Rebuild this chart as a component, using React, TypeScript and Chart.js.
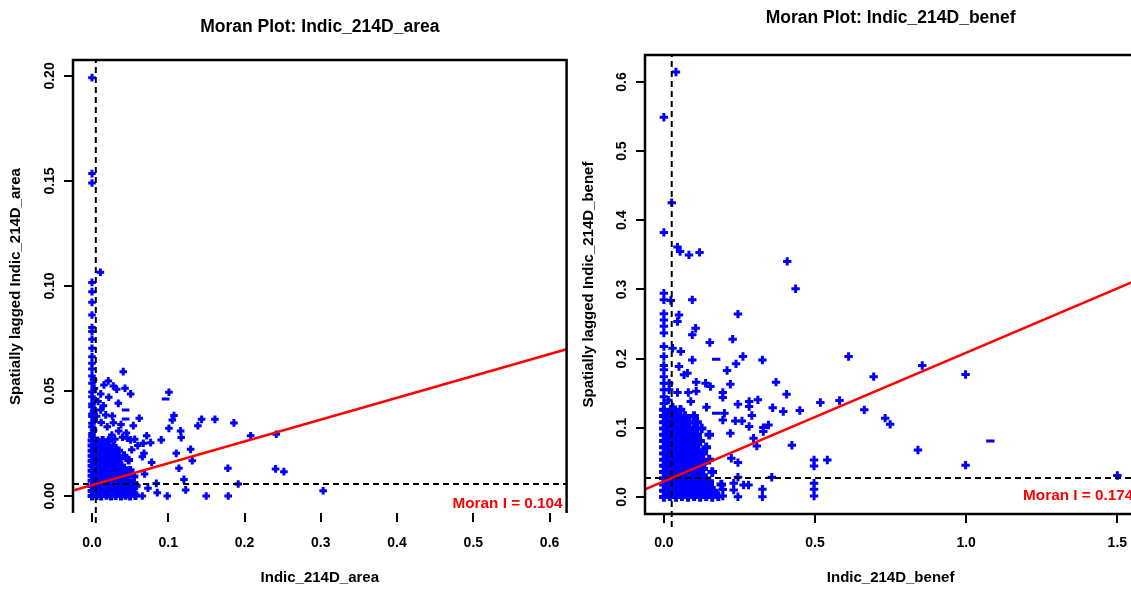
import { useEffect, useRef } from "react";
import { Chart, registerables } from "chart.js";

Chart.register(...registerables);

const FONT = "'Liberation Sans', Arial, Helvetica, sans-serif";

// ---------- Left panel: Indic_214D_area ----------
const areaTitle = "Moran Plot: Indic_214D_area";
const areaXLabel = "Indic_214D_area";
const areaYLabel = "Spatially lagged Indic_214D_area";
const areaMoran = "Moran I = 0.104";
const areaXTicks = [0, 0.1, 0.2, 0.3, 0.4, 0.5, 0.6];
const areaXTickLabels = ["0.0", "0.1", "0.2", "0.3", "0.4", "0.5", "0.6"];
const areaYTicks = [0, 0.05, 0.1, 0.15, 0.2];
const areaYTickLabels = ["0.00", "0.05", "0.10", "0.15", "0.20"];
const areaMeanX = 0.005;
const areaMeanY = 0.0057;
const areaSlope = 0.104;

const areaPoints: [number, number][] = [
  // column near x = 0
  [0, 0.1992], [0, 0.1535], [0, 0.149], [0.011, 0.1065], [0, 0.1017], [0, 0.0973], [0, 0.0922],
  [0, 0.0862], [0, 0.0802], [0, 0.0783], [0, 0.0746], [0, 0.0703], [0, 0.0663], [0, 0.0632],
  [0, 0.0605], [0, 0.0571], [0.002, 0.0555], [0, 0.0537], [0.003, 0.0512], [0, 0.0495], [0, 0.0473],
  [0.003, 0.0455], [0, 0.0438], [0, 0.0425], [0.002, 0.0405], [0, 0.039], [0, 0.0378], [0.003, 0.036],
  [0, 0.0346], [0, 0.033], [0.002, 0.0314], [0, 0.0298], [0, 0.0283],
  // scattered
  [0.041, 0.0592], [0.0214, 0.0548], [0.028, 0.0524], [0.0324, 0.0508], [0.0157, 0.0529], [0.0433, 0.0513],
  [0.0507, 0.0486], [0.0114, 0.0486], [0.1009, 0.0494], [0.0345, 0.0441], [0.0114, 0.041], [0.018, 0.0386],
  [0.0267, 0.0381], [0.028, 0.0349], [0.062, 0.037], [0.0542, 0.0335], [0.1075, 0.0383], [0.1053, 0.0362],
  [0.1009, 0.0322], [0.1437, 0.0365], [0.1389, 0.0335], [0.1612, 0.0365], [0.1861, 0.0348], [0.1162, 0.031],
  [0.117, 0.0278], [0.0717, 0.0287], [0.0673, 0.0251], [0.0769, 0.0254], [0.0908, 0.0267], [0.0463, 0.0275],
  [0.0507, 0.0267], [0.1293, 0.0222], [0.1105, 0.0203], [0.1315, 0.0168], [0.208, 0.0287], [0.2416, 0.0294],
  [0.0782, 0.016], [0.066, 0.0187], [0.0682, 0.0203], [0.114, 0.0132], [0.1782, 0.0132], [0.2407, 0.0129],
  [0.2516, 0.0116], [0.069, 0.0105], [0.1206, 0.0079], [0.1228, 0.0029], [0.0843, 0.006], [0.0856, 0.0016],
  [0.0734, 0.0037], [0.066, 0], [0.0987, 0], [0.1498, 0], [0.1786, 0], [0.1917, 0.0057], [0.3031, 0.0025],
  [0.008, 0.045], [0.015, 0.043], [0.022, 0.047], [0.006, 0.038], [0.012, 0.035], [0.02, 0.033],
  [0.035, 0.031], [0.04, 0.028], [0.026, 0.029], [0.03, 0.027], [0.038, 0.034], [0.045, 0.03],
  [0.056, 0.027], [0.06, 0.024], [0.052, 0.022],
];
// dense cluster near the origin
const areaCluster: [number, number][] = [
  [0, 0], [0.006, 0.0002], [0.012, 0], [0.019, 0.0003], [0.025, 0], [0.031, 0.0002], [0.038, 0], [0.044, 0.0003], [0.05, 0], [0.057, 0.0002],
  [0.003, 0.0012], [0.0095, 0.0013], [0.016, 0.0011], [0.0225, 0.0012], [0.029, 0.0013], [0.0355, 0.0011], [0.042, 0.0012], [0.0485, 0.0013], [0.055, 0.0012],
  [0, 0.0024], [0.007, 0.0026], [0.013, 0.0023], [0.02, 0.0025], [0.026, 0.0022], [0.033, 0.0026], [0.039, 0.0024], [0.046, 0.0023], [0.053, 0.0025],
  [0.003, 0.0036], [0.0095, 0.0037], [0.016, 0.0035], [0.0225, 0.0036], [0.029, 0.0037], [0.0355, 0.0035], [0.042, 0.0036], [0.0485, 0.0037],
  [0, 0.0048], [0.006, 0.0047], [0.012, 0.005], [0.019, 0.0046], [0.025, 0.0049], [0.032, 0.0047], [0.038, 0.005], [0.045, 0.0046], [0.051, 0.0048], [0.058, 0.0049],
  [0.003, 0.006], [0.0095, 0.0061], [0.016, 0.0059], [0.0225, 0.006], [0.029, 0.0061], [0.0355, 0.0059], [0.042, 0.006], [0.0485, 0.0061], [0.055, 0.006],
  [0, 0.0072], [0.007, 0.0073], [0.013, 0.007], [0.02, 0.0074], [0.027, 0.0071], [0.033, 0.0073], [0.04, 0.007], [0.047, 0.0072],
  [0.003, 0.0084], [0.0095, 0.0085], [0.016, 0.0083], [0.0225, 0.0084], [0.029, 0.0085], [0.0355, 0.0083], [0.042, 0.0084],
  [0, 0.0096], [0.006, 0.0095], [0.012, 0.0098], [0.019, 0.0094], [0.026, 0.0097], [0.032, 0.0095], [0.039, 0.0098], [0.045, 0.0096], [0.055, 0.0093],
  [0.003, 0.0108], [0.0095, 0.0109], [0.016, 0.0107], [0.0225, 0.0108], [0.029, 0.0109], [0.0355, 0.0107], [0.042, 0.0108], [0.0485, 0.0109],
  [0, 0.012], [0.007, 0.0121], [0.013, 0.0118], [0.02, 0.0122], [0.026, 0.0119], [0.033, 0.0121], [0.04, 0.0118], [0.05, 0.0122],
  [0.003, 0.0132], [0.0095, 0.0133], [0.016, 0.0131], [0.0225, 0.0132], [0.029, 0.0133], [0.0355, 0.0131], [0.042, 0.0132],
  [0, 0.0144], [0.006, 0.0146], [0.012, 0.0143], [0.019, 0.0145], [0.025, 0.0142], [0.032, 0.0146], [0.038, 0.0144],
  [0.003, 0.0156], [0.0095, 0.0157], [0.016, 0.0155], [0.0225, 0.0156], [0.029, 0.0157], [0.0355, 0.0155],
  [0, 0.0168], [0.007, 0.0167], [0.013, 0.017], [0.02, 0.0166], [0.027, 0.0169], [0.034, 0.0167], [0.048, 0.0171],
  [0.003, 0.018], [0.0095, 0.0181], [0.016, 0.0179], [0.0225, 0.018], [0.029, 0.0181], [0.0355, 0.0179],
  [0, 0.0192], [0.006, 0.0194], [0.012, 0.0191], [0.019, 0.0193], [0.025, 0.019], [0.032, 0.0194], [0.042, 0.0192],
  [0.003, 0.0204], [0.0095, 0.0205], [0.016, 0.0203], [0.0225, 0.0204], [0.029, 0.0205],
  [0, 0.0216], [0.007, 0.0215], [0.013, 0.0218], [0.02, 0.0214], [0.026, 0.0217], [0.035, 0.0215],
  [0.003, 0.0228], [0.0095, 0.0229], [0.016, 0.0227], [0.0225, 0.0228], [0.029, 0.0229],
  [0, 0.024], [0.006, 0.0242], [0.012, 0.0239], [0.019, 0.0241], [0.028, 0.0238],
  [0.003, 0.0252], [0.0095, 0.0253], [0.016, 0.0251],
  [0, 0.0264], [0.007, 0.0262], [0.014, 0.0265], [0.022, 0.0263],
];
const areaDashes: [number, number][] = [[0.0966, 0.0462], [0.0441, 0.041], [0.0441, 0.0367]];

// ---------- Right panel: Indic_214D_benef ----------
const benefTitle = "Moran Plot: Indic_214D_benef";
const benefXLabel = "Indic_214D_benef";
const benefYLabel = "Spatially lagged Indic_214D_benef";
const benefMoran = "Moran I = 0.174";
const benefXTicks = [0, 0.5, 1, 1.5];
const benefXTickLabels = ["0.0", "0.5", "1.0", "1.5"];
const benefYTicks = [0, 0.1, 0.2, 0.3, 0.4, 0.5, 0.6];
const benefYTickLabels = ["0.0", "0.1", "0.2", "0.3", "0.4", "0.5", "0.6"];
const benefMeanX = 0.026;
const benefMeanY = 0.0275;
const benefSlope = 0.186;

const benefPoints: [number, number][] = [
  [0.04, 0.6145], [0, 0.549], [0.026, 0.4255], [0, 0.3825], [0.045, 0.3613], [0.0536, 0.355], [0.083, 0.35],
  [0.118, 0.3536], [0.408, 0.3406], [0.4357, 0.301], [0, 0.2947], [0, 0.285], [0.023, 0.284], [0.094, 0.285],
  [0, 0.265], [0, 0.256], [0, 0.247], [0, 0.237], [0.05, 0.263], [0.045, 0.2537], [0.245, 0.2644],
  [0.105, 0.244], [0.094, 0.2344], [0, 0.2176], [0, 0.203], [0.0285, 0.215], [0.056, 0.2103], [0.152, 0.2233],
  [0.2276, 0.2282], [0.094, 0.198], [0.2616, 0.203], [0.326, 0.198], [0.611, 0.203], [0.2387, 0.1925],
  [0.209, 0.1828], [0, 0.184], [0, 0.174], [0, 0.19], [0.05, 0.1886], [0.0667, 0.1766], [0.078, 0.179],
  [0, 0.1645], [0.0175, 0.1645], [0.107, 0.166], [0.138, 0.1645], [0.154, 0.1596], [0.22, 0.163],
  [0.371, 0.166], [0.8547, 0.19], [0.694, 0.174], [0, 0.155], [0.0175, 0.155], [0.045, 0.151], [0.081, 0.151],
  [0.107, 0.153], [0.195, 0.151], [0.195, 0.144], [0.406, 0.1486], [0.089, 0.138], [0.245, 0.134],
  [0.282, 0.138], [0.282, 0.1307], [0.311, 0.1404], [0.141, 0.1298], [0.2003, 0.121], [0.195, 0.1114],
  [0.2364, 0.11], [0.2583, 0.11], [0.291, 0.1177], [0.282, 0.1018], [0.36, 0.129], [0.395, 0.1235],
  [0.4497, 0.125], [0.5177, 0.1365], [0.581, 0.1394], [0.663, 0.126], [0.732, 0.114], [0.7485, 0.105],
  [0.329, 0.1003], [0.329, 0.0945], [0.346, 0.104], [0.22, 0.092], [0.2966, 0.085], [0.3075, 0.0738],
  [0.4235, 0.0748], [0.8405, 0.068], [0.4968, 0.0535], [0.4968, 0.0449], [0.5406, 0.0535], [0.245, 0.0497],
  [0.223, 0.056], [0.357, 0.0285], [0.245, 0.0285], [0.28, 0.0174], [0.2637, 0.0174], [0.231, 0.0198],
  [0.231, 0.01], [0.245, 0.0004], [0.326, 0.0111], [0.326, 0.0004], [0.4968, 0.0198], [0.4968, 0.0111],
  [0.4968, 0.0014], [0.195, 0.011], [0.195, 0.0014], [0.998, 0.046], [0.998, 0.177], [1.5, 0.031],
  [0, 0.135], [0, 0.145], [0.015, 0.14], [0.03, 0.13],
];
// dense cluster near the origin
const benefCluster: [number, number][] = [
  [0, 0], [0.02, 0.001], [0.04, 0], [0.06, 0.001], [0.08, 0], [0.1, 0.001], [0.12, 0], [0.14, 0.001], [0.16, 0], [0.18, 0.001],
  [0.01, 0.0045], [0.03, 0.0047], [0.05, 0.0044], [0.07, 0.0046], [0.09, 0.0045], [0.11, 0.0047], [0.13, 0.0044], [0.15, 0.0046], [0.17, 0.0045],
  [0, 0.009], [0.02, 0.0095], [0.04, 0.0088], [0.06, 0.0092], [0.08, 0.009], [0.1, 0.0093], [0.12, 0.0088], [0.14, 0.0091], [0.165, 0.009],
  [0.01, 0.0135], [0.03, 0.0137], [0.05, 0.0134], [0.07, 0.0136], [0.09, 0.0135], [0.11, 0.0137], [0.13, 0.0134], [0.15, 0.0136],
  [0, 0.018], [0.02, 0.0178], [0.04, 0.0183], [0.06, 0.0179], [0.08, 0.0182], [0.1, 0.0178], [0.12, 0.0181], [0.15, 0.0179], [0.19, 0.018],
  [0.01, 0.0225], [0.03, 0.0227], [0.05, 0.0224], [0.07, 0.0226], [0.09, 0.0225], [0.11, 0.0227], [0.13, 0.0224], [0.15, 0.0226],
  [0, 0.027], [0.02, 0.0272], [0.04, 0.0268], [0.06, 0.0271], [0.08, 0.0269], [0.1, 0.0273], [0.13, 0.027],
  [0.01, 0.0315], [0.03, 0.0317], [0.05, 0.0314], [0.07, 0.0316], [0.09, 0.0315], [0.11, 0.0317], [0.13, 0.0314],
  [0, 0.036], [0.02, 0.0358], [0.04, 0.0362], [0.06, 0.0359], [0.08, 0.0361], [0.1, 0.0358], [0.12, 0.0362], [0.16, 0.036],
  [0.01, 0.0405], [0.03, 0.0407], [0.05, 0.0404], [0.07, 0.0406], [0.09, 0.0405], [0.11, 0.0407], [0.13, 0.0404],
  [0, 0.045], [0.02, 0.0452], [0.04, 0.0448], [0.06, 0.0451], [0.08, 0.0449], [0.1, 0.0452], [0.125, 0.045],
  [0.01, 0.0495], [0.03, 0.0497], [0.05, 0.0494], [0.07, 0.0496], [0.09, 0.0495], [0.11, 0.0497], [0.13, 0.0494],
  [0, 0.054], [0.02, 0.0538], [0.04, 0.0542], [0.06, 0.0539], [0.08, 0.0541], [0.1, 0.0538], [0.12, 0.0542], [0.15, 0.054],
  [0.01, 0.0585], [0.03, 0.0587], [0.05, 0.0584], [0.07, 0.0586], [0.09, 0.0585], [0.11, 0.0587],
  [0, 0.063], [0.02, 0.0632], [0.04, 0.0628], [0.06, 0.0631], [0.08, 0.0629], [0.1, 0.0632], [0.13, 0.063],
  [0.01, 0.0675], [0.03, 0.0677], [0.05, 0.0674], [0.07, 0.0676], [0.09, 0.0675], [0.11, 0.0677],
  [0, 0.072], [0.02, 0.0718], [0.04, 0.0722], [0.06, 0.0719], [0.08, 0.0721], [0.105, 0.0718], [0.14, 0.072],
  [0.01, 0.0765], [0.03, 0.0767], [0.05, 0.0764], [0.07, 0.0766], [0.09, 0.0765], [0.11, 0.0767],
  [0, 0.081], [0.02, 0.0812], [0.04, 0.0808], [0.06, 0.0811], [0.08, 0.0809], [0.1, 0.0812], [0.12, 0.081],
  [0.01, 0.0855], [0.03, 0.0857], [0.05, 0.0854], [0.07, 0.0856], [0.09, 0.0855],
  [0, 0.09], [0.02, 0.0898], [0.04, 0.0902], [0.06, 0.0899], [0.085, 0.0901], [0.11, 0.0898], [0.15, 0.09],
  [0.01, 0.0945], [0.03, 0.0947], [0.05, 0.0944], [0.07, 0.0946], [0.09, 0.0945],
  [0, 0.099], [0.02, 0.0992], [0.04, 0.0988], [0.06, 0.0991], [0.08, 0.0989], [0.1, 0.0992], [0.125, 0.099],
  [0.01, 0.1035], [0.03, 0.1037], [0.05, 0.1034], [0.07, 0.1036],
  [0, 0.108], [0.02, 0.1078], [0.04, 0.1082], [0.06, 0.1079], [0.085, 0.1081], [0.11, 0.108],
  [0.01, 0.1125], [0.03, 0.1127], [0.05, 0.1124], [0.07, 0.1126],
  [0, 0.117], [0.02, 0.1172], [0.045, 0.1168], [0.07, 0.1171], [0.1, 0.117],
  [0.01, 0.1215], [0.03, 0.1217],
  [0, 0.126], [0.025, 0.1258], [0.055, 0.1262],
];
const benefDashes: [number, number][] = [[0.173, 0.1993], [0.173, 0.121], [1.08, 0.081]];

type Panel = {
  title: string; xLabel: string; yLabel: string; moran: string;
  points: [number, number][]; cluster: [number, number][]; dashes: [number, number][];
  xTicks: number[]; xTickLabels: string[]; yTicks: number[]; yTickLabels: string[];
  meanX: number; meanY: number; slope: number;
  xMin: number; xMax: number; yMin: number; yMax: number; vBottom: number;
  titlePad: { top: number; bottom: number }; padRight: number;
  yAxisWidth: number; xAxisHeight: number; yTitlePad: number; xTitlePad: number;
  yTickPad: number; xTickPad: number; markerRadius: number;
  sides: { left: boolean; top: boolean; right: boolean; bottom: boolean };
  textRight: number; textUp: number;
};

const framePlugin = {
  id: "frame",
  afterDraw(chart: any, _args: any, opts: any) {
    const { ctx, chartArea } = chart;
    const { left, right, top, bottom } = chartArea;
    ctx.save();
    ctx.strokeStyle = "#000";
    ctx.lineWidth = 2.5;
    ctx.beginPath();
    if (opts.sides.left) { ctx.moveTo(left, top); ctx.lineTo(left, bottom); }
    if (opts.sides.top) { ctx.moveTo(left - 1.25, top); ctx.lineTo(right + 1.25, top); }
    if (opts.sides.right) { ctx.moveTo(right, top); ctx.lineTo(right, bottom); }
    if (opts.sides.bottom) { ctx.moveTo(left - 1.25, bottom); ctx.lineTo(right + 1.25, bottom); }
    ctx.stroke();
    ctx.fillStyle = "#ff0000";
    ctx.font = `bold 15.3px ${FONT}`;
    ctx.textAlign = "right";
    ctx.textBaseline = "middle";
    ctx.fillText(opts.text, right - opts.textRight, bottom - opts.textUp);
    ctx.restore();
  },
};

function buildConfig(p: Panel): any {
  const lineY = (x: number) => p.meanY + p.slope * (x - p.meanX);
  const tickFont = { family: FONT, size: 14, weight: "bold" as const };
  const axisTitleFont = { family: FONT, size: 15, weight: "bold" as const };
  return {
    type: "scatter",
    data: {
      datasets: [
        {
          data: [{ x: p.xMin, y: lineY(p.xMin) }, { x: p.xMax, y: lineY(p.xMax) }],
          showLine: true, borderColor: "#ff0000", borderWidth: 2.5, pointRadius: 0, order: 0,
        },
        {
          data: [{ x: p.xMin, y: p.meanY }, { x: p.xMax, y: p.meanY }],
          showLine: true, borderColor: "#000", borderWidth: 2, borderDash: [6, 4], pointRadius: 0, order: 1,
        },
        {
          data: [{ x: p.meanX, y: p.vBottom }, { x: p.meanX, y: p.yMax }],
          showLine: true, borderColor: "#000", borderWidth: 2, borderDash: [6, 4], pointRadius: 0, order: 1, clip: false,
        },
        {
          data: p.points.map(([x, y]) => ({ x, y })),
          pointStyle: "cross", pointRadius: p.markerRadius, pointBorderColor: "#0000ff", pointBorderWidth: 3,
          pointHoverRadius: p.markerRadius, order: 2,
        },
        {
          data: p.cluster.map(([x, y]) => ({ x, y })),
          pointStyle: "cross", pointRadius: p.markerRadius + 0.6, pointBorderColor: "#0000ff", pointBorderWidth: 4,
          pointHoverRadius: p.markerRadius + 0.6, order: 3,
        },
        {
          data: p.dashes.map(([x, y]) => ({ x, y })),
          pointStyle: "line", pointRadius: p.markerRadius, pointBorderColor: "#0000ff", pointBorderWidth: 3,
          pointHoverRadius: p.markerRadius, order: 2,
        },
      ],
    },
    options: {
      responsive: false,
      animation: false,
      events: [],
      layout: { padding: { left: 0, right: p.padRight, top: 0, bottom: 0 } },
      plugins: {
        legend: { display: false },
        tooltip: { enabled: false },
        title: {
          display: true, text: p.title, color: "#000", fullSize: false,
          font: { family: FONT, size: 17.5, weight: "bold" },
          padding: p.titlePad,
        },
        frame: { sides: p.sides, text: p.moran, textRight: p.textRight, textUp: p.textUp },
      },
      scales: {
        x: {
          type: "linear", min: p.xMin, max: p.xMax,
          border: { display: false },
          grid: { drawOnChartArea: false, drawTicks: true, tickLength: 9, color: "#000", lineWidth: 2 },
          afterBuildTicks: (axis: any) => { axis.ticks = p.xTicks.map((v) => ({ value: v })); },
          afterFit: (axis: any) => { axis.height = p.xAxisHeight; },
          ticks: {
            autoSkip: false, maxRotation: 0, minRotation: 0, color: "#000", font: tickFont, padding: p.xTickPad,
            callback: (_v: any, i: number) => p.xTickLabels[i],
          },
          title: {
            display: true, text: p.xLabel, color: "#000", font: axisTitleFont,
            padding: { top: 0, bottom: p.xTitlePad },
          },
        },
        y: {
          type: "linear", min: p.yMin, max: p.yMax,
          border: { display: false },
          grid: { drawOnChartArea: false, drawTicks: true, tickLength: 9, color: "#000", lineWidth: 2 },
          afterBuildTicks: (axis: any) => { axis.ticks = p.yTicks.map((v) => ({ value: v })); },
          afterFit: (axis: any) => { axis.width = p.yAxisWidth; },
          ticks: {
            autoSkip: false, minRotation: 90, maxRotation: 90, crossAlign: "center", color: "#000",
            font: tickFont, padding: p.yTickPad,
            callback: (_v: any, i: number) => p.yTickLabels[i],
          },
          title: {
            display: true, text: p.yLabel, color: "#000", font: axisTitleFont,
            padding: { top: p.yTitlePad, bottom: 0 },
          },
        },
      },
    },
    plugins: [framePlugin],
  };
}

const leftPanel: Panel = {
  title: areaTitle, xLabel: areaXLabel, yLabel: areaYLabel, moran: areaMoran,
  points: areaPoints, cluster: areaCluster, dashes: areaDashes,
  xTicks: areaXTicks, xTickLabels: areaXTickLabels, yTicks: areaYTicks, yTickLabels: areaYTickLabels,
  meanX: areaMeanX, meanY: areaMeanY, slope: areaSlope,
  xMin: -0.0249, xMax: 0.6223, yMin: -0.0081, yMax: 0.2076, vBottom: -0.0129,
  titlePad: { top: 16.5, bottom: 22.5 }, padRight: 8,
  yAxisWidth: 73, xAxisHeight: 78, yTitlePad: 7, xTitlePad: 4,
  yTickPad: 0, xTickPad: 12.6, markerRadius: 3.8,
  sides: { left: true, top: true, right: true, bottom: false },
  textRight: 4, textUp: 9.5,
};

const rightPanel: Panel = {
  title: benefTitle, xLabel: benefXLabel, yLabel: benefYLabel, moran: benefMoran,
  points: benefPoints, cluster: benefCluster, dashes: benefDashes,
  xTicks: benefXTicks, xTickLabels: benefXTickLabels, yTicks: benefYTicks, yTickLabels: benefYTickLabels,
  meanX: benefMeanX, meanY: benefMeanY, slope: benefSlope,
  xMin: -0.0624, xMax: 1.5624, yMin: -0.0246, yMax: 0.639, vBottom: -0.0434,
  titlePad: { top: 8, bottom: 26 }, padRight: 5,
  yAxisWidth: 70, xAxisHeight: 77, yTitlePad: 4.4, xTitlePad: 4,
  yTickPad: 4.3, xTickPad: 11.6, markerRadius: 4.2,
  sides: { left: true, top: true, right: true, bottom: true },
  textRight: 3, textUp: 18.5,
};

function MoranChart({ panel, width, height }: { panel: Panel; width: number; height: number }) {
  const ref = useRef<HTMLCanvasElement | null>(null);
  useEffect(() => {
    if (!ref.current) return;
    const chart = new Chart(ref.current, buildConfig(panel));
    return () => chart.destroy();
  }, [panel]);
  return <canvas ref={ref} width={width} height={height} style={{ display: "block", width, height }} />;
}

export default function App() {
  return (
    <div style={{ position: "absolute", left: 0, top: 0, width: 1131, height: 591, overflow: "hidden", background: "#fff" }}>
      <div style={{ position: "absolute", left: 0, top: 0 }}>
        <MoranChart panel={leftPanel} width={575} height={591} />
      </div>
      <div style={{ position: "absolute", left: 575, top: 0 }}>
        <MoranChart panel={rightPanel} width={570} height={591} />
      </div>
    </div>
  );
}
